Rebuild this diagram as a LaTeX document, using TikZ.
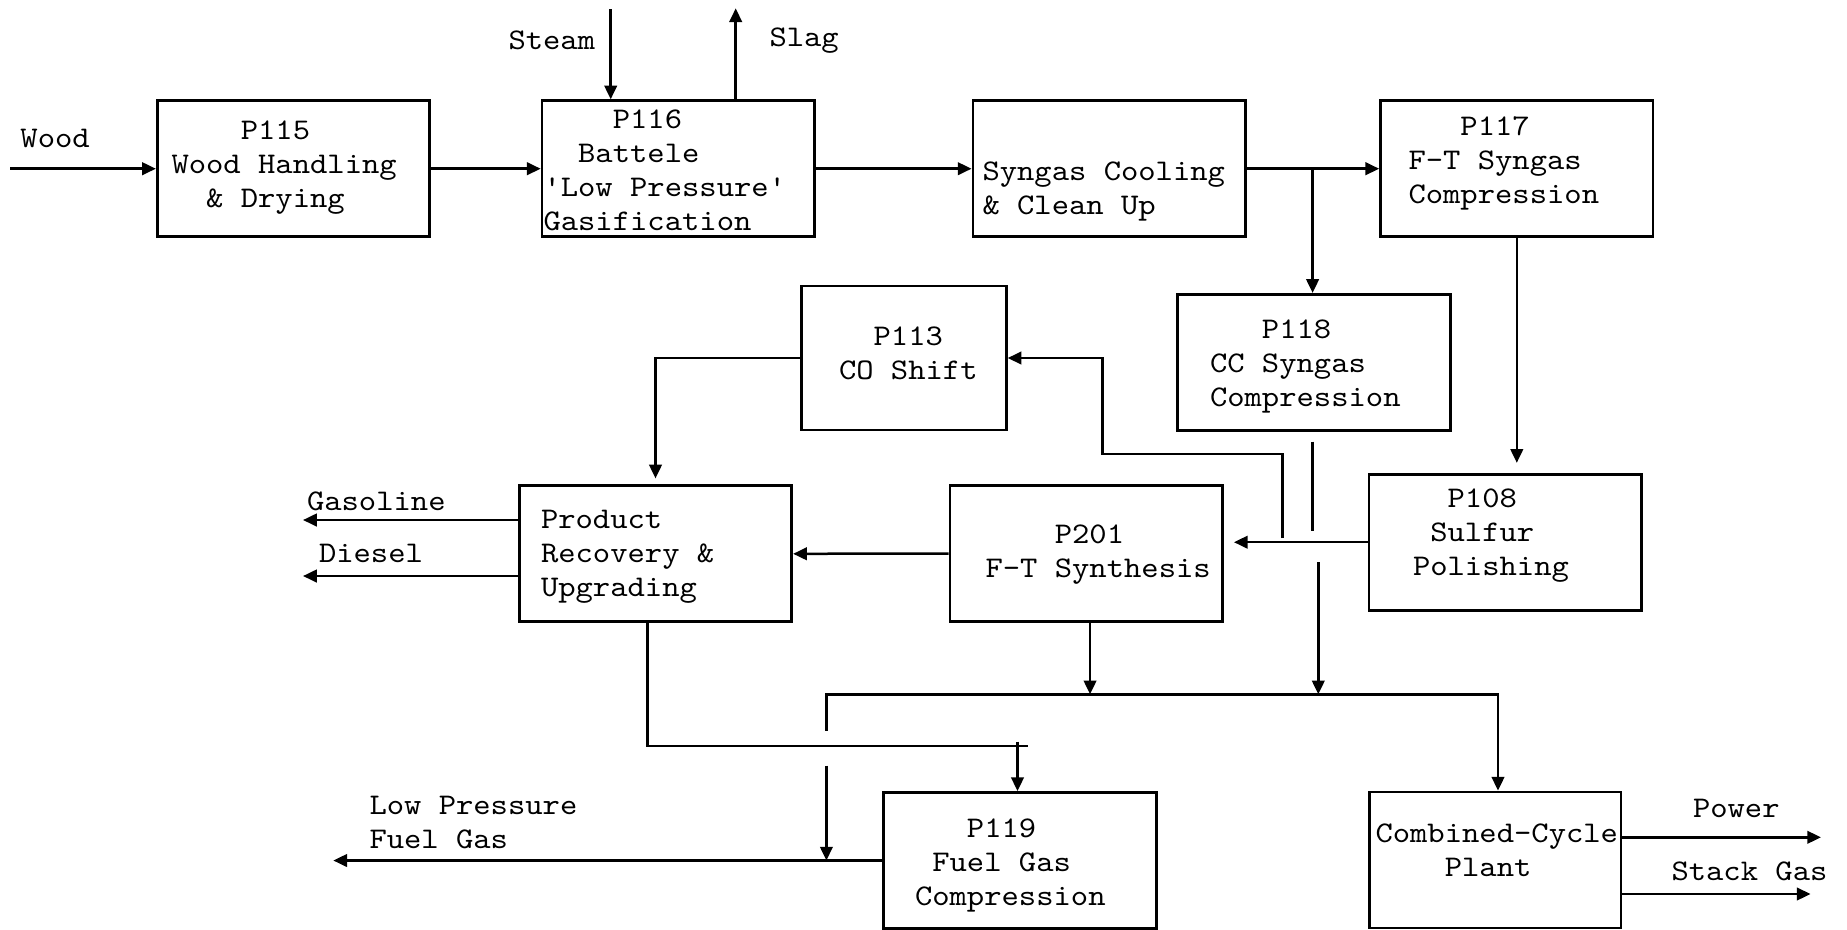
\documentclass[tikz,border=0pt]{standalone}
\usepackage{fontspec}
\setmonofont{lmmono10-regular.otf}[FakeStretch=1.1]
\usetikzlibrary{arrows.meta}
\begin{document}
\begin{tikzpicture}[x=0.4pt,y=-0.4pt]
\tikzset{
 box/.style={draw, line width=1.1pt, inner sep=0pt, minimum width=109pt, minimum height=54.4pt},
 txt/.style={inner sep=0pt, anchor=west, align=left, font=\ttfamily\fontsize{12}{13.55}\selectfont},
 arr/.style={line width=1pt, -{Triangle[length=5.5pt,width=5pt]}},
 ln/.style={line width=1pt},
}
\useasboundingbox (0,0) rectangle (1847,929);
\path[fill=white] (0,0) rectangle (1847,929);
% boxes
\node[box] (p115) at (293.5,168.7) {};
\node[box] (p116) at (678.3,168.7) {};
\node[box] (syn) at (1109.2,168.7) {};
\node[box] (p117) at (1516.8,168.7) {};
\node[box, minimum width=82pt, minimum height=57.6pt] (co) at (903.8,358) {};
\node[box] (p118) at (1314,362.3) {};
\node[box] (prod) at (655.5,553.8) {};
\node[box] (p201) at (1086.3,553.5) {};
\node[box] (p108) at (1505.3,542.2) {};
\node[box] (p119) at (1020.1,860.5) {};
\node[box, minimum width=100.7pt] (cc) at (1495,860) {};
% box texts
\node[txt] (t115) at (171,166.8) {\strut\hphantom{xxxx}P115\\\strut Wood Handling\\\strut\hphantom{xx}\& Drying};
\node[txt] (t116) at (543,172.7) {\strut\hphantom{xxxx}P116\\\strut\hphantom{xx}Battele\\\strut 'Low Pressure'\\\strut Gasification};
\node[txt] (tsyn) at (982,191) {\strut Syngas Cooling\\\strut\& Clean Up};
\node[txt] (t117) at (1408,162.7) {\strut\hphantom{xxx}P117\\\strut F-T Syngas\\\strut Compression};
\node[txt] (tco) at (838.5,356) {\strut\hphantom{xx}P113\\\strut CO Shift};
\node[txt] (t118) at (1209.5,365.7) {\strut\hphantom{xxx}P118\\\strut CC Syngas\\\strut Compression};
\node[txt] (t108) at (1412.5,535) {\strut\hphantom{xx}P108\\\strut\hphantom{x}Sulfur\\\strut Polishing};
\node[txt] (tprod) at (540.5,555.5) {\strut Product\\\strut Recovery \&\\\strut Upgrading};
\node[txt] (t201) at (985,553.3) {\strut\hphantom{xxxx}P201\\\strut F-T Synthesis};
\node[txt] (t119) at (914.5,864.8) {\strut\hphantom{xxx}P119\\\strut\hphantom{x}Fuel Gas\\\strut Compression};
\node[txt] (tcc) at (1375,852.7) {\strut Combined-Cycle\\\strut\hphantom{xxxx}Plant};
% stream labels
\node[txt] (tlp) at (369,824.3) {\strut Low Pressure\\\strut Fuel Gas};
\node[txt] (twood) at (20,141) {\strut Wood};
\node[txt] (tsteam) at (508,43) {\strut Steam};
\node[txt] (tslag) at (769,40) {\strut Slag};
\node[txt] (tgas) at (306.5,503.7) {\strut Gasoline};
\node[txt] (tdie) at (318.5,556) {\strut Diesel};
\node[txt] (tpow) at (1692.5,810.3) {\strut Power};
\node[txt] (tstk) at (1671,873.3) {\strut Stack Gas};
% connectors
\coordinate (woodin) at (10,168.7);
\draw[arr] (woodin) -- (p115.west);
\draw[arr] (p115.east) -- (p116.west);
\coordinate (steamtop) at (610.7,9.3);
\draw[arr] (steamtop) -- (steamtop |- p116.north);
\coordinate (slagtop) at (735.7,8.3);
\draw[arr] (slagtop |- p116.north) -- (slagtop);
\draw[arr] (p116.east) -- (syn.west);
\draw[arr] (syn.east) -- (p117.west);
\coordinate (br) at (1312.6,168.7);
\draw[arr] (br) -- (br |- p118.north);
\draw[arr, shorten >=4pt] (p117.south) -- (p117.south |- p108.north);
\draw[arr, shorten >=4pt] (p108.west) -- (p108.west -| p201.east);
\coordinate (fb) at (1282.3,538);
\coordinate (fbc) at (1102.3,454);
\draw[arr] (fb) |- (fbc) |- (co.east);
\coordinate (s1a) at (1312.3,441.7);
\coordinate (s1b) at (1312.3,531);
\draw[ln] (s1a) -- (s1b);
\coordinate (s2) at (1318.3,562.3);
\coordinate (dR) at (1498,694.3);
\draw[arr] (s2) -- (s2 |- dR);
\coordinate (p201o) at ([xshift=1.5pt]p201.south);
\draw[arr] (p201o) -- (p201o |- dR);
\coordinate (dLa) at (826.4,730.7);
\draw[arr] (dLa) |- (dR) -- (dR |- cc.north);
\coordinate (dLb) at (826.4,765.7);
\draw[arr] (dLb) -- (dLb |- p119.west);
\coordinate (lpend) at (333.3,860.5);
\draw[arr] (p119.west) -- (lpend);
\coordinate (prodo) at ([xshift=-3.3pt]prod.south);
\coordinate (hend) at (1027.8,746);
\draw[ln] (prodo) |- (hend);
\coordinate (p119i) at (1017.5,741.7);
\draw[arr] (p119i) -- (p119i |- p119.north);
\draw[arr] (p201.west) -- (prod.east);
\draw[arr, shorten >=2.4pt] (co.west) -| (prod.north);
\coordinate (gas) at (303,520);
\draw[arr] (gas -| prod.west) -- (gas);
\coordinate (die) at (303,576);
\draw[arr] (die -| prod.west) -- (die);
\coordinate (pow) at (1821,837.3);
\draw[arr] (pow -| cc.east) -- (pow);
\coordinate (stk) at (1810.6,894);
\draw[arr] (stk -| cc.east) -- (stk);
\end{tikzpicture}
\end{document}
